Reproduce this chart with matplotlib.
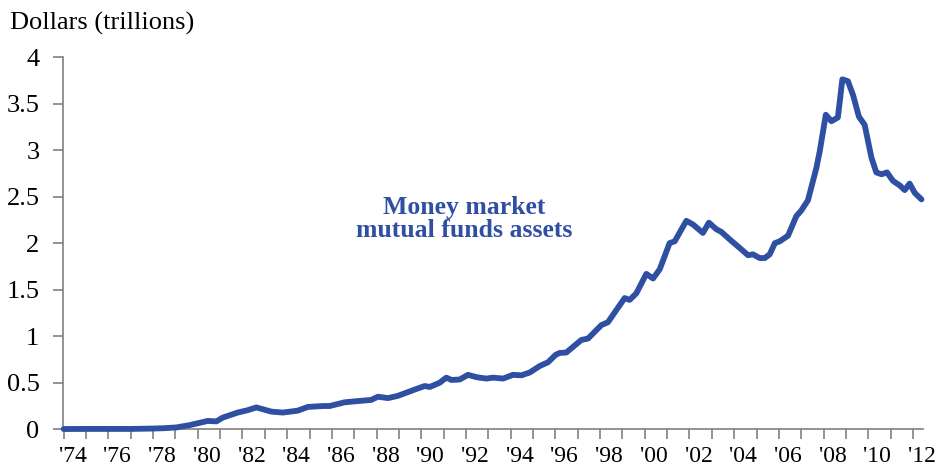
import numpy as np
import matplotlib
matplotlib.use("Agg")
import matplotlib.pyplot as plt
from matplotlib.ticker import FixedLocator

# money market fund assets, trillions of dollars
years = [1974.0, 1975.0, 1976.0, 1977.0, 1978.0, 1978.5, 1979.04, 1979.64,
         1980.09, 1980.44, 1980.83, 1981.11, 1981.79, 1982.23, 1982.62,
         1983.29, 1983.80, 1984.47, 1984.92, 1985.59, 1985.90, 1986.57,
         1987.24, 1987.75, 1988.06, 1988.51, 1988.96, 1989.63, 1990.15,
         1990.38, 1990.82, 1991.12, 1991.35, 1991.72, 1992.09, 1992.47,
         1992.91, 1993.21, 1993.66, 1994.10, 1994.48, 1994.85, 1995.30,
         1995.67, 1996.01, 1996.19, 1996.49, 1997.16, 1997.46, 1998.06,
         1998.35, 1999.10, 1999.32, 1999.62, 2000.07, 2000.37, 2000.67,
         2001.11, 2001.34, 2001.86, 2002.16, 2002.60, 2002.87, 2003.20,
         2003.43, 2003.80, 2004.24, 2004.62, 2004.84, 2005.14, 2005.37,
         2005.59, 2005.82, 2006.04, 2006.41, 2006.78, 2007.00, 2007.30,
         2007.68, 2007.83, 2008.10, 2008.35, 2008.64, 2008.84, 2009.09,
         2009.32, 2009.58, 2009.84, 2010.14, 2010.36, 2010.59, 2010.84,
         2011.10, 2011.41, 2011.63, 2011.85, 2012.08, 2012.38]
assets = [0.003, 0.004, 0.004, 0.004, 0.008, 0.012, 0.02, 0.045,
          0.07, 0.09, 0.085, 0.125, 0.18, 0.205, 0.235,
          0.19, 0.18, 0.20, 0.24, 0.25, 0.25, 0.29,
          0.305, 0.315, 0.35, 0.335, 0.36, 0.42, 0.465,
          0.455, 0.50, 0.555, 0.53, 0.535, 0.585, 0.56,
          0.545, 0.555, 0.545, 0.585, 0.58, 0.61, 0.68,
          0.72, 0.80, 0.82, 0.825, 0.96, 0.975, 1.12,
          1.15, 1.41, 1.39, 1.46, 1.67, 1.62, 1.72,
          2.00, 2.02, 2.24, 2.20, 2.11, 2.22, 2.15,
          2.12, 2.04, 1.95, 1.87, 1.88, 1.84, 1.84,
          1.88, 2.00, 2.02, 2.08, 2.29, 2.35, 2.46,
          2.81, 2.99, 3.38, 3.31, 3.35, 3.76, 3.74,
          3.59, 3.36, 3.27, 2.92, 2.76, 2.74, 2.76,
          2.67, 2.62, 2.57, 2.64, 2.54, 2.47]

tick_years = list(range(1974, 2013))
label_years = list(range(1974, 2013, 2))
labels = ["'%02d" % (y % 100) for y in label_years]
yticks = [0, 0.5, 1, 1.5, 2, 2.5, 3, 3.5, 4]

plt.rcParams['font.family'] = ['Liberation Serif', 'DejaVu Serif']
blue = '#2F4FA2'
grey = '#808080'

fig = plt.figure(figsize=(9.35, 4.68), dpi=100)
ax = fig.add_axes([0.0674, 0.0827, 0.9198, 0.7955])

ax.plot(years, assets, color=blue, lw=4.2, solid_joinstyle='round',
        solid_capstyle='round', clip_on=False, zorder=3)

ax.set_xlim(1973.97, 2012.45)
ax.set_ylim(0, 4)

for s in ['top', 'right']:
    ax.spines[s].set_visible(False)
for s in ['left', 'bottom']:
    ax.spines[s].set_color(grey)
    ax.spines[s].set_linewidth(1.2)

ax.set_yticks(yticks)
ax.set_yticklabels(['0', '0.5', '1', '1.5', '2', '2.5', '3', '3.5', '4'])
ax.tick_params(axis='y', length=7, width=1.2, color=grey, pad=10, labelsize=19)

ax.xaxis.set_major_locator(FixedLocator([y + 0.4 for y in label_years]))
ax.set_xticklabels(labels)
ax.xaxis.set_minor_locator(FixedLocator(tick_years))
ax.tick_params(axis='x', which='major', length=0, pad=12, labelsize=17)
ax.tick_params(axis='x', which='minor', length=7, width=1.2, color=grey)

fig.text(0.011, 0.949, 'Dollars (trillions)', fontsize=19, va='center', ha='left')

ax.text(1991.92, 2.26, 'Money market\nmutual funds assets', color=blue,
        fontsize=18.5, fontweight='bold', ha='center', va='center',
        linespacing=1.0)

fig.savefig('out.png', dpi=100)
